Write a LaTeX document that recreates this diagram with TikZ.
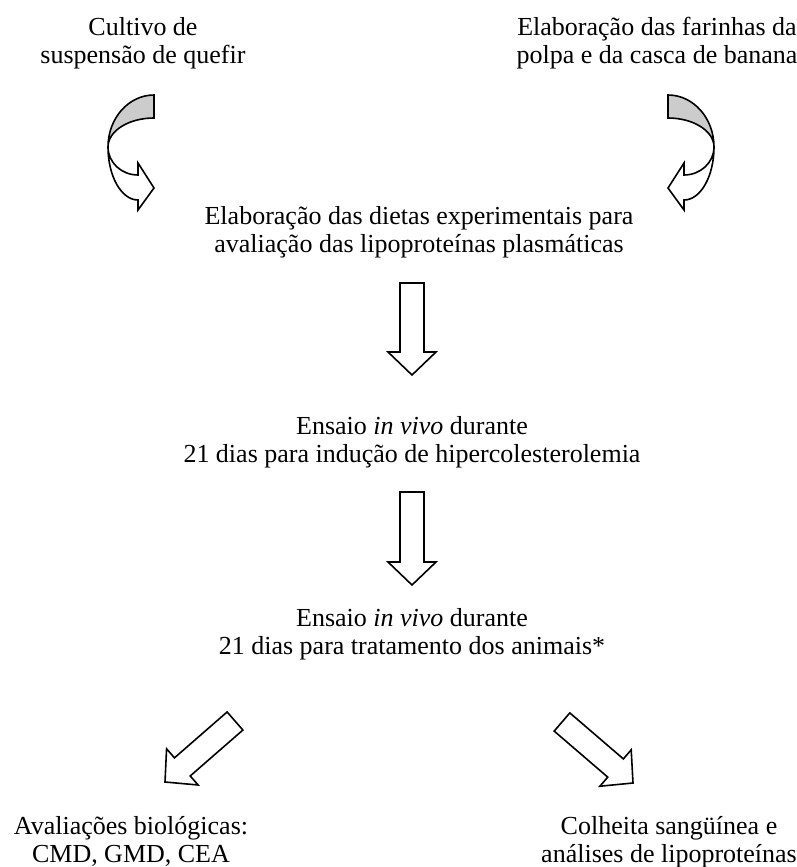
\documentclass[tikz,border=0pt]{standalone}
\usepackage{fontspec}
\setmainfont{Liberation Serif}
\usetikzlibrary{calc}

\definecolor{backgray}{RGB}{204,204,204}

% seta larga de (#1) ate a ponta (#2)
\newcommand{\blockarrow}[2]{%
  \draw[arrowline] ($(#1)!6pt!90:(#2)$)
    -- ($(#2)!11.5pt!(#1)!6pt!90:(#2)$)
    -- ($(#2)!11.5pt!(#1)!12pt!90:(#2)$)
    -- (#2)
    -- ($(#2)!11.5pt!(#1)!12pt!-90:(#2)$)
    -- ($(#2)!11.5pt!(#1)!6pt!-90:(#2)$)
    -- ($(#1)!6pt!-90:(#2)$) -- cycle;}

\begin{document}
\begin{tikzpicture}[x=0.5pt, y=0.5pt,
  txt/.style = {align=center, inner sep=0pt, anchor=base,
                font=\fontsize{13}{14}\selectfont},
  arrowline/.style = {draw=black, line width=0.8pt, fill=white, line join=miter},
  backface/.style = {arrowline, fill=backgray}]
  \useasboundingbox (0,0) rectangle (797,-867);

  % textos (base = ultima linha)
  \node[txt] (quefir)   at (143,-63)  {Cultivo de\\suspensão de quefir};
  \node[txt] (farinha)  at (657,-63)  {Elaboração das farinhas da\\polpa e da casca de banana};
  \node[txt] (dieta)    at (419,-252) {Elaboração das dietas experimentais para\\avaliação das lipoproteínas plasmáticas};
  \node[txt] (inducao)  at (412,-462) {Ensaio \textit{in vivo} durante\\21 dias para indução de hipercolesterolemia};
  \node[txt] (tratam)   at (412,-654) {Ensaio \textit{in vivo} durante\\21 dias para tratamento dos animais*};
  \node[txt] (aval)     at (131,-862) {Avaliações biológicas:\\CMD, GMD, CEA};
  \node[txt] (colheita) at (669,-862) {Colheita sangüínea e\\análises de lipoproteínas};

  % setas curvas
  \foreach \sx/\dx in {1/0,-1/822}{
    \begin{scope}[shift={(\dx,0)}, xscale=\sx]
      \draw[backface] (154,-95)
        arc[start angle=90, end angle=180, x radius=46, y radius=52]
        arc[start angle=180, end angle=90, x radius=46, y radius=29] -- cycle;
      \draw[arrowline] (108,-147)
        arc[start angle=180, end angle=270, x radius=30, y radius=53]
        -- (138,-210) -- (154,-188) -- (138,-163) -- (138,-175)
        arc[start angle=270, end angle=180, x radius=30, y radius=28] -- cycle;
    \end{scope}
  }

  % setas retas
  \coordinate (t1) at (412,-283); \coordinate (p1) at (412,-375);
  \coordinate (t2) at (412,-492); \coordinate (p2) at (412,-585);
  \coordinate (t3) at (235,-721); \coordinate (p3) at (165,-782);
  \coordinate (t4) at (562,-722); \coordinate (p4) at (633,-783);
  \blockarrow{t1}{p1}
  \blockarrow{t2}{p2}
  \blockarrow{t3}{p3}
  \blockarrow{t4}{p4}
\end{tikzpicture}
\end{document}
